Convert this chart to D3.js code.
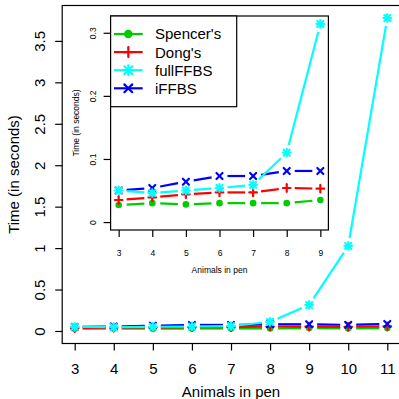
<!DOCTYPE html>
<html>
<head>
<meta charset="utf-8">
<script src="https://cdn.jsdelivr.net/npm/d3@7"></script>
<style>
  html, body { margin: 0; padding: 0; background: #fff; }
  svg { display: block; font-family: "Liberation Sans", Arial, Helvetica, sans-serif; }
</style>
</head>
<body>
<svg id="chart" width="399" height="399"></svg>
<script>
// Timing results (seconds) by number of animals in the pen
const animals   = [3, 4, 5, 6, 7, 8, 9, 10, 11];
const spencers  = [0.027, 0.030, 0.028, 0.030, 0.030, 0.030, 0.035, 0.032, 0.035];
const dongs     = [0.035, 0.039, 0.044, 0.047, 0.047, 0.054, 0.053, 0.050, 0.055];
const fullFFBS  = [0.050, 0.046, 0.050, 0.054, 0.059, 0.110, 0.314, 1.026, 3.776];
const iFFBS     = [0.050, 0.054, 0.064, 0.073, 0.073, 0.081, 0.081, 0.074, 0.085];

const seriesNames = ["Spencer's", "Dong's", "fullFFBS", "iFFBS"];

const mainXTicks  = [3, 4, 5, 6, 7, 8, 9, 10, 11];
const mainYTicks  = [0, 0.5, 1, 1.5, 2, 2.5, 3, 3.5];
const insetXTicks = [3, 4, 5, 6, 7, 8, 9];
const insetYTicks = [0, 0.1, 0.2, 0.3];
const insetMaxAnimals = 9;

const xTitle = "Animals in pen";
const yTitle = "Time (in seconds)";

// styling per series
const styles = {
  "Spencer's": { color: "#00CD00", shape: "circle" },
  "Dong's":    { color: "#FF0000", shape: "plus" },
  "fullFFBS":  { color: "#00FFFF", shape: "asterisk" },
  "iFFBS":     { color: "#0000FF", shape: "cross" }
};
const valuesByName = {
  "Spencer's": spencers, "Dong's": dongs, "fullFFBS": fullFFBS, "iFFBS": iFFBS
};
const drawOrder = ["Spencer's", "Dong's", "iFFBS", "fullFFBS"];

const svg = d3.select("#chart");
const LW = 2.2;     // data line width
const GAP = 8;      // gap between line ends and points

// R-like axis padding: 4% of the range on each side
function padded(lo, hi) {
  const d = (hi - lo) * 0.04;
  return [lo - d, hi + d];
}

function drawMarker(g, cx, cy, shape, color, k) {
  const r = 3.3 * k, hx = 3.0 * k, hp = 3.8 * k;
  const line = (x1, y1, x2, y2) => g.append("line")
    .attr("x1", cx + x1).attr("y1", cy + y1)
    .attr("x2", cx + x2).attr("y2", cy + y2)
    .attr("stroke", color).attr("stroke-width", LW).attr("stroke-linecap", "round");
  if (shape === "circle") {
    g.append("circle").attr("cx", cx).attr("cy", cy).attr("r", r).attr("fill", color);
  }
  if (shape === "plus" || shape === "asterisk") {
    line(-hp, 0, hp, 0); line(0, -hp, 0, hp);
  }
  if (shape === "cross" || shape === "asterisk") {
    line(-hx, -hx, hx, hx); line(-hx, hx, hx, -hx);
  }
}

// lines broken around points, then the points
function drawSeries(g, x, y, xv, yv, st) {
  const pts = xv.map((d, i) => [x(d), y(yv[i])]);
  for (let i = 0; i < pts.length - 1; i++) {
    const [x1, y1] = pts[i], [x2, y2] = pts[i + 1];
    const dx = x2 - x1, dy = y2 - y1, len = Math.hypot(dx, dy);
    if (len <= 2 * GAP) continue;
    const ux = dx / len, uy = dy / len;
    g.append("line")
      .attr("x1", x1 + ux * GAP).attr("y1", y1 + uy * GAP)
      .attr("x2", x2 - ux * GAP).attr("y2", y2 - uy * GAP)
      .attr("stroke", st.color).attr("stroke-width", LW);
  }
  pts.forEach(p => drawMarker(g, p[0], p[1], st.shape, st.color, 1));
}

function drawPanel(opts) {
  const { left, right, top, bottom, xv, series, xTicks, yTicks, yMax, font,
          yLabelOff, xLabelOff, xTitleY, yTitleX } = opts;
  const g = svg.append("g");
  const x = d3.scaleLinear().domain(padded(d3.min(xv), d3.max(xv))).range([left, right]);
  const y = d3.scaleLinear().domain(padded(0, yMax)).range([bottom, top]);

  g.append("rect").attr("x", left).attr("y", top)
    .attr("width", right - left).attr("height", bottom - top)
    .attr("fill", "#fff");

  drawOrder.forEach(name => drawSeries(g, x, y, xv, series[name], styles[name]));

  g.append("rect").attr("x", left).attr("y", top)
    .attr("width", right - left).attr("height", bottom - top)
    .attr("fill", "none").attr("stroke", "#000").attr("stroke-width", 1.2);

  const fmt = d => String(+d.toFixed(2));
  const ax = g.append("g").attr("transform", `translate(0,${bottom})`)
    .call(d3.axisBottom(x).tickValues(xTicks).tickFormat(fmt).tickSize(7));
  ax.select(".domain").remove();
  ax.selectAll("line").attr("stroke", "#000").attr("stroke-width", 1.2);
  ax.selectAll("text").attr("y", xLabelOff).attr("dy", 0)
    .attr("fill", "#000").style("font-size", font + "px");

  const ay = g.append("g").attr("transform", `translate(${left},0)`)
    .call(d3.axisLeft(y).tickValues(yTicks).tickFormat(fmt).tickSize(7));
  ay.select(".domain").remove();
  ay.selectAll("line").attr("stroke", "#000").attr("stroke-width", 1.2);
  ay.selectAll("text")
    .attr("x", 0).attr("dy", 0).attr("y", 0)
    .attr("transform", `translate(${-yLabelOff},0) rotate(-90)`)
    .attr("text-anchor", "middle")
    .attr("fill", "#000").style("font-size", font + "px");
  ax.attr("font-family", null).attr("font-size", null);
  ay.attr("font-family", null).attr("font-size", null);

  g.append("text").attr("x", (left + right) / 2).attr("y", xTitleY)
    .attr("text-anchor", "middle").style("font-size", font + "px").text(xTitle);
  g.append("text")
    .attr("transform", `translate(${yTitleX},${(top + bottom) / 2}) rotate(-90)`)
    .attr("text-anchor", "middle").style("font-size", font + "px").text(yTitle);
  return g;
}

// main panel: all pen sizes
drawPanel({
  left: 62.2, right: 399.8, top: 5.5, bottom: 343.5,
  xv: animals, series: valuesByName,
  xTicks: mainXTicks, yTicks: mainYTicks,
  yMax: d3.max(fullFFBS), font: 15,
  yLabelOff: 17.2, xLabelOff: 30.2, xTitleY: 396.5, yTitleX: 19
});

// inset panel: pens up to 9 animals
const nIn = animals.filter(a => a <= insetMaxAnimals).length;
const insetSeries = {};
seriesNames.forEach(n => insetSeries[n] = valuesByName[n].slice(0, nIn));
drawPanel({
  left: 110.6, right: 328.4, top: 16, bottom: 230,
  xv: animals.slice(0, nIn), series: insetSeries,
  xTicks: insetXTicks, yTicks: insetYTicks,
  yMax: d3.max(insetSeries["fullFFBS"]), font: 8.5,
  yLabelOff: 14.2, xLabelOff: 25.5, xTitleY: 272.5, yTitleX: 78.5
});

// legend in the inset's top-left corner
const lg = svg.append("g");
lg.append("rect").attr("x", 110.6).attr("y", 16).attr("width", 126.1).attr("height", 90.7)
  .attr("fill", "#fff").attr("stroke", "#000").attr("stroke-width", 1.2);
seriesNames.forEach((name, i) => {
  const cy = 34 + i * 18.1, st = styles[name];
  lg.append("line").attr("x1", 114).attr("x2", 142.7).attr("y1", cy).attr("y2", cy)
    .attr("stroke", st.color).attr("stroke-width", LW);
  drawMarker(lg, 128.3, cy, st.shape, st.color, 1.3);
  lg.append("text").attr("x", 155).attr("y", cy).attr("dy", "0.36em")
    .style("font-size", "15px").text(name);
});
</script>
</body>
</html>
